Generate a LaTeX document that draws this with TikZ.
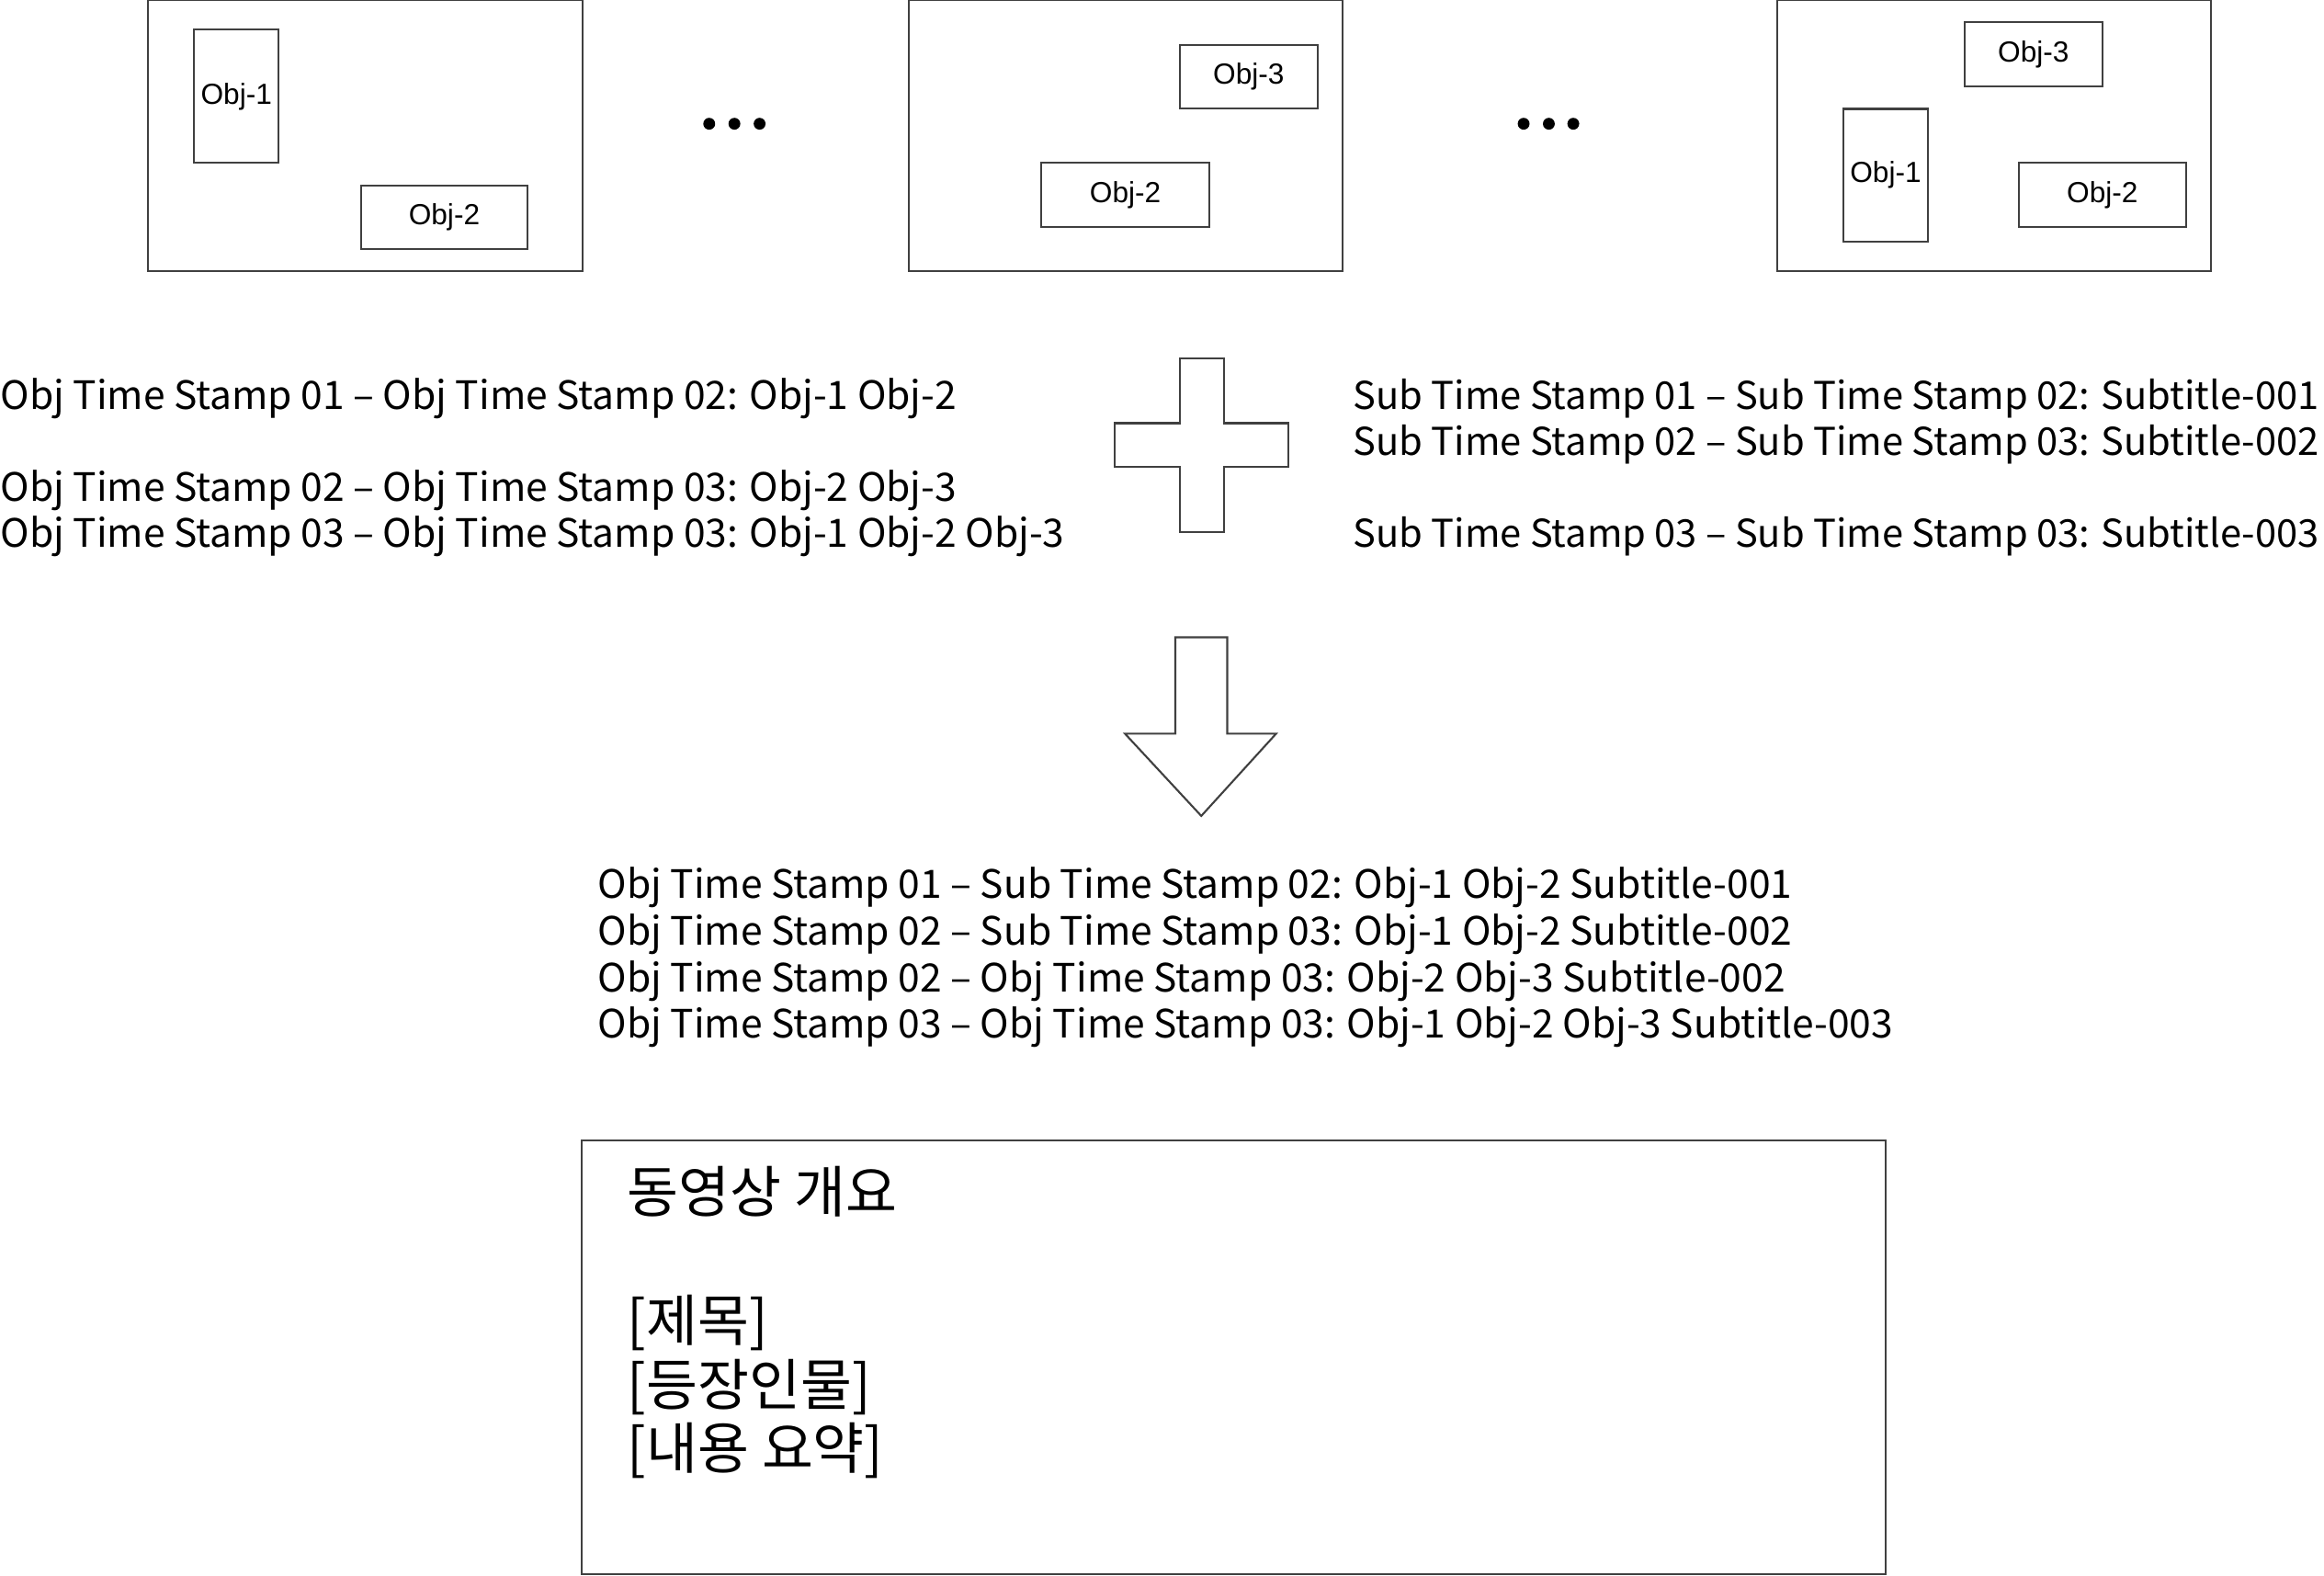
\documentclass[tikz,border=0pt]{standalone}
\usepackage{fontspec}
\usepackage{tikz}
\newfontfamily\krfont{Noto Sans CJK KR}
\newfontfamily\objfont{Liberation Sans}

\begin{document}
\begin{tikzpicture}[
    x=0.16129mm, y=-0.16129mm,
    quadro/.style={draw=black!75, line width=0.6pt},
    objeto/.style={font=\objfont\fontsize{9}{11}\selectfont, inner sep=0pt},
    carimbo/.style={anchor=base west, inner sep=0pt, font=\krfont\fontsize{12.1}{14}\selectfont},
    legenda/.style={anchor=base east, inner sep=0pt, font=\krfont\fontsize{11.85}{14}\selectfont},
    resumo/.style={anchor=base west, inner sep=0pt, font=\krfont\fontsize{17.3}{20}\selectfont},
]
\useasboundingbox (0,0) rectangle (1568,1063);

% Quadros de video
\draw[quadro] (100,0) rectangle (393,183);
\draw[quadro] (131,20) rectangle (188,110) node[objeto, midway] (q1obj1) {Obj-1};
\draw[quadro] (243.5,125) rectangle (356,168) node[objeto, midway] (q1obj2) {Obj-2};

\draw[quadro] (613,0) rectangle (906,183);
\draw[quadro] (796,30.5) rectangle (889,73) node[objeto, midway] (q2obj3) {Obj-3};
\draw[quadro] (702.5,110) rectangle (816,153) node[objeto, midway] (q2obj2) {Obj-2};

\draw[quadro] (1199,0) rectangle (1492,183);
\draw[quadro] (1325.5,15) rectangle (1418.5,58.5) node[objeto, midway] (q3obj3) {Obj-3};
\draw[quadro] (1244,73.5) rectangle (1300.5,163) node[objeto, midway] (q3obj1) {Obj-1};
\draw[quadro] (1362,110) rectangle (1475,153) node[objeto, midway] (q3obj2) {Obj-2};

% Reticencias
\fill (478.5,83.5) circle[radius=4];
\fill (495.5,83.5) circle[radius=4];
\fill (512.5,83.5) circle[radius=4];
\fill (1028,83.5) circle[radius=4];
\fill (1045,83.5) circle[radius=4];
\fill (1061.5,83.5) circle[radius=4];

% Marcas de tempo dos objetos
\node[carimbo] (obj1) at (0,276) {Obj Time Stamp 01 – Obj Time Stamp 02: Obj-1 Obj-2};
\node[carimbo] (obj2) at (0,338) {Obj Time Stamp 02 – Obj Time Stamp 03: Obj-2 Obj-3};
\node[carimbo] (obj3) at (0,369) {Obj Time Stamp 03 – Obj Time Stamp 03: Obj-1 Obj-2 Obj-3};

% Marcas de tempo das legendas
\node[legenda] (sub1) at (1565,276) {Sub Time Stamp 01 – Sub Time Stamp 02: Subtitle-001};
\node[legenda] (sub2) at (1565,307) {Sub Time Stamp 02 – Sub Time Stamp 03: Subtitle-002};
\node[legenda] (sub3) at (1565,369) {Sub Time Stamp 03 – Sub Time Stamp 03: Subtitle-003};

% Sinal de mais
\draw[quadro] (796,242) -- (826,242) -- (826,285.5) -- (869,285.5) -- (869,315) -- (826,315)
    -- (826,359) -- (796,359) -- (796,315) -- (752,315) -- (752,285.5) -- (796,285.5) -- cycle;

% Seta para baixo
\draw[quadro] (793,430) -- (828,430) -- (828,495) -- (861,495) -- (810.5,550.5)
    -- (759,495) -- (793,495) -- cycle;

% Resultado combinado
\node[carimbo] (mix1) at (403,606) {Obj Time Stamp 01 – Sub Time Stamp 02: Obj-1 Obj-2 Subtitle-001};
\node[carimbo] (mix2) at (403,637.5) {Obj Time Stamp 02 – Sub Time Stamp 03: Obj-1 Obj-2 Subtitle-002};
\node[carimbo] (mix3) at (403,669) {Obj Time Stamp 02 – Obj Time Stamp 03: Obj-2 Obj-3 Subtitle-002};
\node[carimbo] (mix4) at (403,700.5) {Obj Time Stamp 03 – Obj Time Stamp 03: Obj-1 Obj-2 Obj-3 Subtitle-003};

% Resumo do video
\draw[quadro] (392.5,769.5) rectangle (1272,1062);
\node[resumo] (titulo) at (423,818) {동영상 개요};
\node[resumo] (tit) at (423,905) {[제목]};
\node[resumo] (pers) at (423,948) {[등장인물]};
\node[resumo] (cont) at (423,991) {[내용 요약]};

\end{tikzpicture}
\end{document}
